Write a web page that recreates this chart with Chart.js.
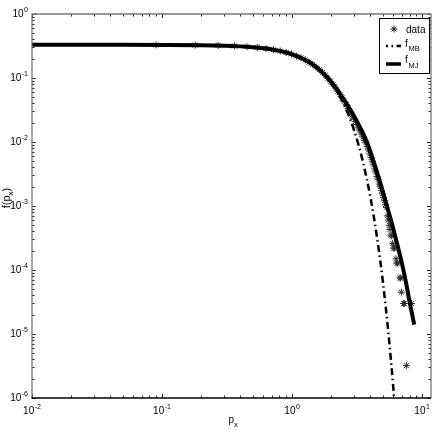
<!DOCTYPE html>
<html><head><meta charset="utf-8">
<script src="https://cdn.jsdelivr.net/npm/chart.js@4.4.1/dist/chart.umd.min.js"></script>
<style>html,body{margin:0;padding:0;background:#fff}</style>
</head><body>
<canvas id="c" width="436" height="436" style="width:436px;height:436px;display:block"></canvas>
<script>
// ---- data ----
const xData = [0.09,0.18,0.27,0.36,0.45,0.54,0.63,0.72,0.81,0.90,0.99,1.08,1.17,1.26,1.35,1.44,1.53,1.62,1.71,1.80,
  1.89,1.98,2.07,2.16,2.25,2.34,2.43,2.52,2.61,2.70,2.79,2.88,2.97,3.06,3.15,3.24,3.33,3.42,3.51,3.60,
  3.69,3.78,3.87,3.96,4.05,4.14,4.23,4.32,4.41,4.50,4.59,4.68,4.77,4.86,4.95,5.04,5.13,5.22,
  5.31,5.40,5.49,5.58,5.67,5.76,5.85,5.94,6.03,6.12,6.30,6.39,6.48,6.75,6.84,6.93,7.20,7.29,8.28,7.56];
const yData = [0.329,0.327,0.323,0.317,0.309,0.300,0.289,0.276,0.264,0.250,0.237,0.221,0.207,0.192,0.177,0.163,0.148,0.135,0.122,0.110,
  0.0985,0.0875,0.0790,0.0700,0.0622,0.0550,0.0488,0.0432,0.0382,0.0335,0.0299,0.0262,0.0236,0.0208,0.0187,0.0166,0.0150,0.0133,0.0120,0.0106,
  0.0097,0.0085,0.0075,0.0065,0.0057,0.0050,0.0044,0.0038,0.0034,0.0029,0.0026,0.0022,0.0020,0.00175,0.00155,0.00136,0.00121,0.00105,
  9.5e-4,7.0e-4,6.0e-4,5.0e-4,4.3e-4,3.5e-4,3.4e-4,2.6e-4,2.2e-4,2.2e-4,1.5e-4,1.28e-4,1.28e-4,7.5e-5,7.5e-5,4.5e-5,3.0e-5,3.0e-5,3.0e-5,3.2e-6];

const xMB = [0.01,0.05,0.1,0.2,0.3,0.4,0.5,0.6,0.7,0.8,0.9,1.0,1.2,1.4,1.6,1.8,2.0,2.25,2.5,2.75,3.0,3.25,3.5,3.75,4.0,4.25,4.5,4.75,5.0,5.25,5.5,5.75,6.0,6.2];
const yMB = [0.33,0.33,0.329,0.3255,0.320,0.312,0.303,0.292,0.279,0.265,0.250,0.234,0.2015,0.1686,0.1373,0.1088,0.0839,0.0583,0.0388,0.0248,
  0.0151,0.00886,0.00497,0.00267,0.00138,6.8e-4,3.2e-4,1.46e-4,6.3e-5,2.63e-5,1.05e-5,4.0e-6,1.46e-6,6.4e-7];

const xMJ = [0.01,0.05,0.1,0.2,0.3,0.4,0.5,0.6,0.7,0.8,0.9,1.0,1.2,1.4,1.6,1.8,2.0,2.25,2.5,2.75,3.0,3.25,3.5,3.75,4.0,4.25,4.5,4.75,5.0,5.5,6.0,6.5,7.0,7.5,8.0,8.7];
const yMJ = [0.33,0.33,0.329,0.3255,0.320,0.312,0.303,0.292,0.279,0.265,0.250,0.234,0.2015,0.1690,0.1380,0.1100,0.0869,0.0631,0.0459,0.0340,
  0.0252,0.0187,0.0138,0.0101,0.00698,0.00482,0.00333,0.00234,0.00164,8.3e-4,4.4e-4,2.32e-4,1.26e-4,6.5e-5,3.2e-5,1.4e-5];

// tick labels: base "10" with these exponents
const xDecades = [-2,-1,0,1];
const xTickExps = ['-2','-1','0','1'];
const yDecades = [-6,-5,-4,-3,-2,-1,0];
const yTickExps = ['-6','-5','-4','-3','-2','-1','0'];
const tickBase = '10';
const legendNames = ['data','f','f'];
const legendSubs = ['','MB','MJ'];
const xTitle = ['p','x'];
const yTitle = ['f(p','x',')'];

const FONT = '"Liberation Sans", Arial, Helvetica, sans-serif';
const toPts = (xs, ys) => xs.map((x, i) => ({x: x, y: ys[i]}));

function logTicks(min, max) {
  const t = [];
  for (let e = Math.floor(Math.log10(min)); e <= Math.ceil(Math.log10(max)); e++) {
    for (let m = 1; m < 10; m++) {
      const v = m * Math.pow(10, e);
      if (v >= min * 0.999 && v <= max * 1.001) t.push({value: v, major: m === 1});
    }
  }
  return t;
}
function expFor(value, decades, exps) {
  const e = Math.round(Math.log10(value));
  if (Math.abs(value / Math.pow(10, e) - 1) > 1e-6) return null;
  const i = decades.indexOf(e);
  return i >= 0 ? exps[i] : null;
}
function drawPow(ctx, exp, x, y, align) {
  ctx.font = '10px ' + FONT;
  const wb = ctx.measureText(tickBase).width;
  ctx.font = '7px ' + FONT;
  const we = ctx.measureText(exp).width;
  const total = wb + we + 0.5;
  const x0 = align === 'center' ? x - total / 2 : x - total;
  ctx.textAlign = 'left';
  ctx.font = '10px ' + FONT; ctx.textBaseline = 'middle';
  ctx.fillText(tickBase, x0, y);
  ctx.font = '7px ' + FONT; ctx.textBaseline = 'alphabetic';
  ctx.fillText(exp, x0 + wb + 0.5, y - 2.2);
}

const DASH = [7, 3.5, 1.5, 3.5];

const framePlugin = {
  id: 'frame',
  afterDatasetsDraw(chart) {
    const ctx = chart.ctx, a = chart.chartArea;
    const xs = chart.scales.x, ys = chart.scales.y;
    ctx.save();
    // ticks (inward, all four sides)
    ctx.strokeStyle = '#222'; ctx.lineWidth = 1;
    ctx.beginPath();
    xs.ticks.forEach(t => {
      const px = Math.round(xs.getPixelForValue(t.value)) + 0.5;
      const L = expFor(t.value, xDecades, xTickExps) !== null ? 4 : 2.5;
      ctx.moveTo(px, a.bottom); ctx.lineTo(px, a.bottom - L);
      ctx.moveTo(px, a.top); ctx.lineTo(px, a.top + L);
    });
    ys.ticks.forEach(t => {
      const py = Math.round(ys.getPixelForValue(t.value)) + 0.5;
      const L = expFor(t.value, yDecades, yTickExps) !== null ? 4 : 2.5;
      ctx.moveTo(a.left, py); ctx.lineTo(a.left + L, py);
      ctx.moveTo(a.right, py); ctx.lineTo(a.right - L, py);
    });
    ctx.stroke();
    // box
    ctx.strokeStyle = '#777'; ctx.lineWidth = 1.3;
    ctx.beginPath();
    ctx.moveTo(a.left, a.bottom); ctx.lineTo(a.left, a.top); ctx.lineTo(a.right, a.top); ctx.lineTo(a.right, a.bottom);
    ctx.stroke();
    ctx.strokeStyle = '#000'; ctx.lineWidth = 1.6;
    ctx.beginPath(); ctx.moveTo(a.left - 0.5, a.bottom); ctx.lineTo(a.right, a.bottom); ctx.stroke();

    // tick labels through the scales
    ctx.fillStyle = '#000';
    xs.ticks.forEach(t => {
      const ex = expFor(t.value, xDecades, xTickExps);
      if (ex !== null) drawPow(ctx, ex, xs.getPixelForValue(t.value), 411, 'center');
    });
    ys.ticks.forEach(t => {
      const ex = expFor(t.value, yDecades, yTickExps);
      if (ex !== null) drawPow(ctx, ex, a.left - 4, ys.getPixelForValue(t.value), 'right');
    });

    // legend
    const bx = 379.5, by = 18.5, bw = 50, bh = 55;
    ctx.fillStyle = '#fff'; ctx.fillRect(bx, by, bw, bh);
    ctx.strokeStyle = '#000'; ctx.lineWidth = 1; ctx.setLineDash([]);
    ctx.strokeRect(bx, by, bw, bh);
    const rows = [29, 46, 64];
    const sx = 394, sy = rows[0], r = 3.5;
    ctx.strokeStyle = '#222'; ctx.lineWidth = 1;
    ctx.beginPath();
    for (let k = 0; k < 4; k++) {
      const ang = k * Math.PI / 4;
      ctx.moveTo(sx - r * Math.cos(ang), sy - r * Math.sin(ang));
      ctx.lineTo(sx + r * Math.cos(ang), sy + r * Math.sin(ang));
    }
    ctx.stroke();
    ctx.strokeStyle = '#000'; ctx.lineWidth = 2.5; ctx.setLineDash(DASH); ctx.lineDashOffset = 5;
    ctx.beginPath(); ctx.moveTo(386, rows[1]); ctx.lineTo(401, rows[1]); ctx.stroke();
    ctx.setLineDash([]); ctx.lineDashOffset = 0;
    ctx.lineWidth = 3.5;
    ctx.beginPath(); ctx.moveTo(386, rows[2]); ctx.lineTo(401, rows[2]); ctx.stroke();
    ctx.fillStyle = '#000'; ctx.textBaseline = 'alphabetic'; ctx.textAlign = 'left';
    ctx.font = '10px ' + FONT;
    ctx.fillText(legendNames[0], 406, rows[0] + 3.5);
    ctx.fillText(legendNames[1], 405, rows[1] + 0.5);
    ctx.fillText(legendNames[2], 405, rows[2] - 1);
    ctx.font = '7.5px ' + FONT;
    ctx.fillText(legendSubs[1], 408.5, rows[1] + 5);
    ctx.fillText(legendSubs[2], 408.5, rows[2] + 4);

    // x title
    ctx.font = '10px ' + FONT;
    const cx = (a.left + a.right) / 2;
    const wp = ctx.measureText(xTitle[0]).width;
    ctx.fillText(xTitle[0], cx - 3, 423);
    ctx.font = '7.5px ' + FONT;
    ctx.fillText(xTitle[1], cx - 3 + wp, 427);

    // y title (rotated)
    ctx.save();
    ctx.translate(10, 198);
    ctx.rotate(-Math.PI / 2);
    ctx.font = '11px ' + FONT;
    const w1 = ctx.measureText(yTitle[0]).width;
    const w3 = ctx.measureText(yTitle[2]).width;
    ctx.font = '8px ' + FONT;
    const w2 = ctx.measureText(yTitle[1]).width;
    const s = -(w1 + w2 + w3) / 2;
    ctx.font = '11px ' + FONT;
    ctx.fillText(yTitle[0], s, 0);
    ctx.font = '8px ' + FONT;
    ctx.fillText(yTitle[1], s + w1, 2.5);
    ctx.font = '11px ' + FONT;
    ctx.fillText(yTitle[2], s + w1 + w2, 0);
    ctx.restore();

    ctx.restore();
  }
};

new Chart(document.getElementById('c'), {
  type: 'scatter',
  data: {
    datasets: [
      {label: 'data', data: toPts(xData, yData), order: 3,
       pointStyle: 'star', pointRadius: 3.5, pointBorderWidth: 1, borderColor: '#2a2a2a', backgroundColor: 'rgba(0,0,0,0)', showLine: false},
      {label: 'f_MB', data: toPts(xMB, yMB), order: 2, showLine: true, pointRadius: 0,
       borderColor: '#000', borderWidth: 2.5, borderDash: DASH, cubicInterpolationMode: 'monotone'},
      {label: 'f_MJ', data: toPts(xMJ, yMJ), order: 1, showLine: true, pointRadius: 0,
       borderColor: '#000', borderWidth: 4, cubicInterpolationMode: 'monotone'}
    ]
  },
  options: {
    responsive: false, animation: false, devicePixelRatio: 1,
    layout: {padding: {top: 14, right: 4, left: 0, bottom: 0}},
    plugins: {legend: {display: false}, tooltip: {enabled: false}},
    scales: {
      x: {type: 'logarithmic', min: 0.01, max: 11.7,
          afterBuildTicks: s => { s.ticks = logTicks(s.min, s.max); },
          afterFit: s => { s.height = 38; },
          grid: {display: false, drawTicks: false}, border: {display: false},
          ticks: {display: false, autoSkip: false}},
      y: {type: 'logarithmic', min: 1e-6, max: 1,
          afterBuildTicks: s => { s.ticks = logTicks(s.min, s.max); },
          afterFit: s => { s.width = 32; },
          grid: {display: false, drawTicks: false}, border: {display: false},
          ticks: {display: false, autoSkip: false}}
    }
  },
  plugins: [framePlugin]
});
</script>
</body></html>
